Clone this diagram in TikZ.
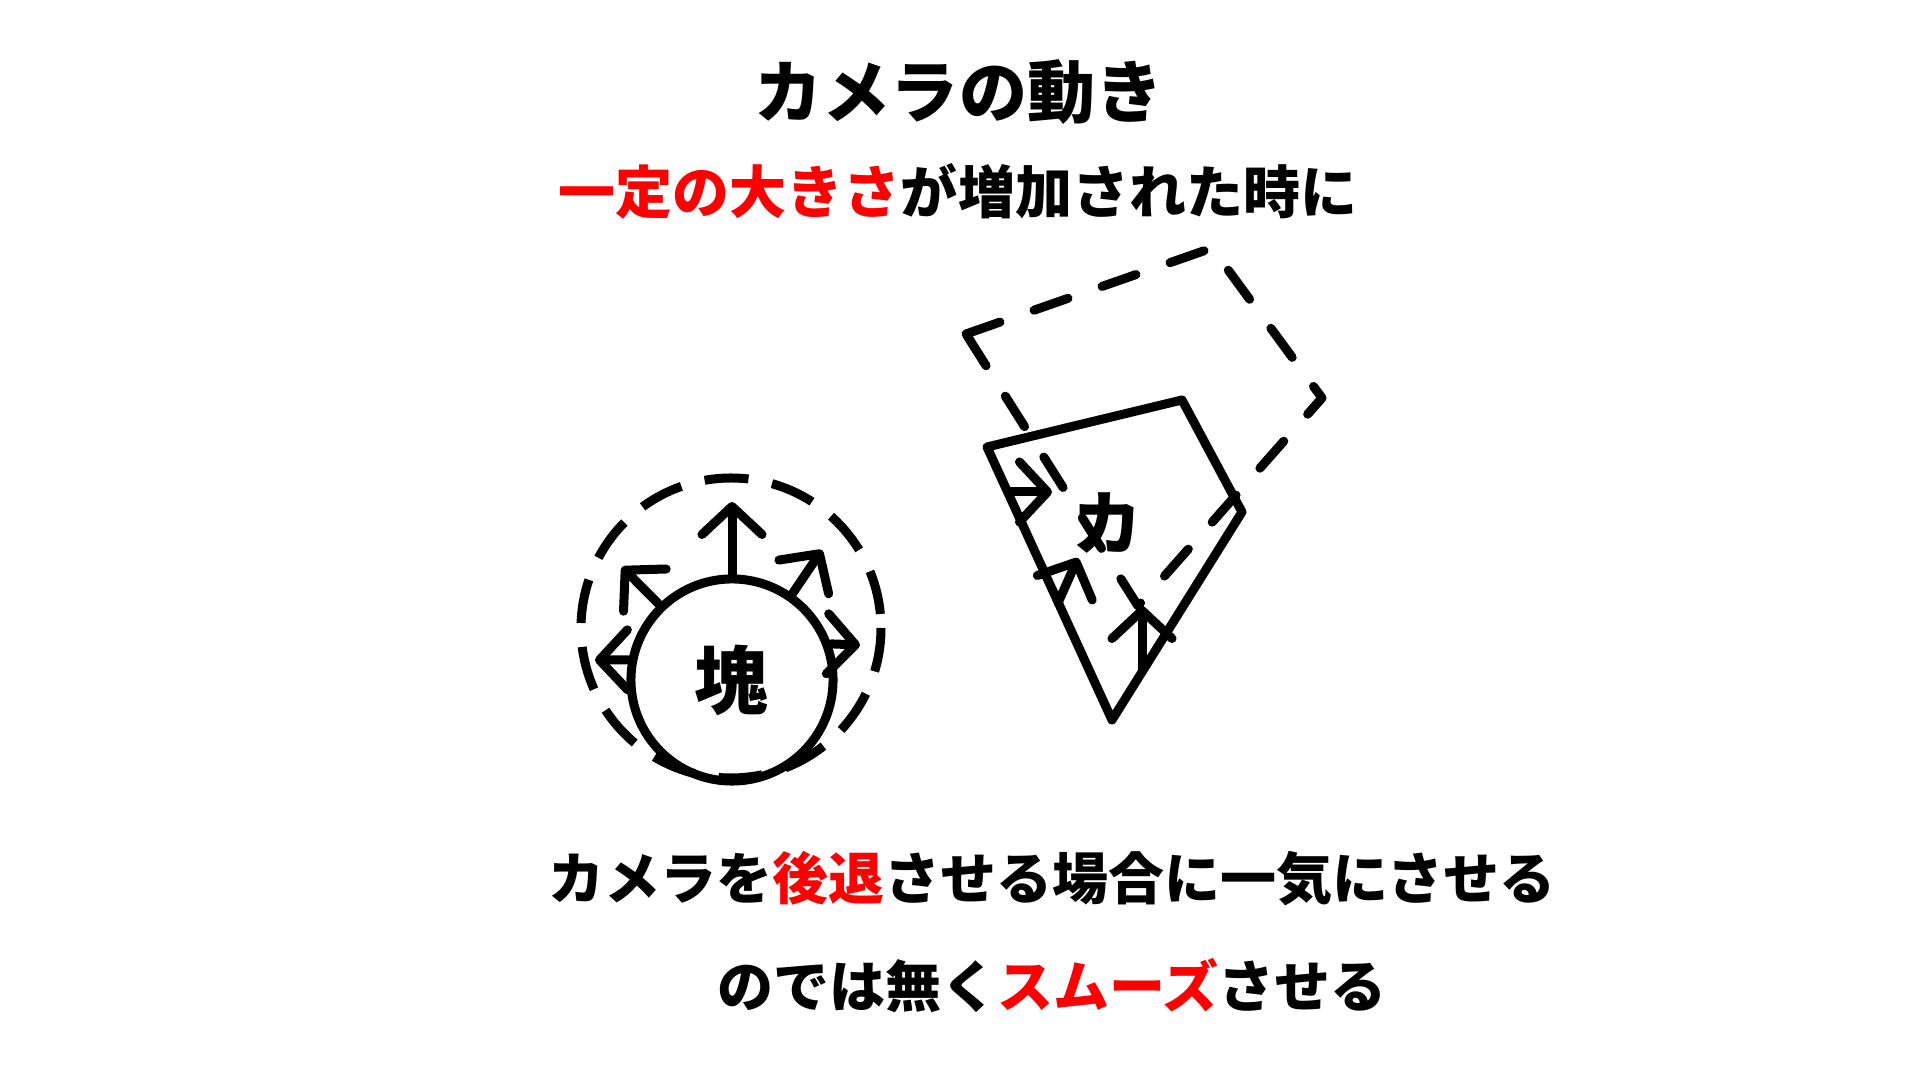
\documentclass[tikz,border=0pt]{standalone}
\usepackage{fontspec}
\newfontfamily\jpfont{Noto Sans CJK JP Black}
\usetikzlibrary{arrows.meta}
\definecolor{accent}{RGB}{255,0,0}

\begin{document}
\begin{tikzpicture}[x=0.01cm,y=-0.01cm,
    thick line/.style={line width=0.09cm, line cap=round, line join=round},
    dash line/.style={thick line, dash pattern=on 0.36cm off 0.36cm},
    ring line/.style={line width=0.09cm, dash pattern=on 0.44cm off 0.24cm},
    grow arrow/.style={thick line, -{Straight Barb[length=0.28cm,width=0.6cm,round]}},
    label/.style={inner sep=0pt, font=\jpfont\fontsize{#1}{#1}\selectfont}
  ]
  \useasboundingbox (0,0) rectangle (1920,1080);

  % headings
  \node[label=0.68cm] (title) at (959,92) {カメラの動き};
  \node[label=0.57cm] (subtitle) at (958,191) {\textcolor{accent}{一定の大きさ}が増加された時に};

  % the blob and how it grows
  \draw[ring line] (731,628) circle (150);
  \node[draw, circle, line width=0.09cm, minimum size=2.02cm, inner sep=0pt,
        font=\jpfont\fontsize{0.74cm}{0.74cm}\selectfont] (blob) at (732,680) {塊};
  \coordinate (tipN) at (732,502);
  \coordinate (tipNW) at (622,567);
  \coordinate (tipNE) at (822,550);
  \coordinate (tipE) at (860,645);
  \coordinate (tipW) at (595,660);
  \draw[grow arrow] (blob.90) -- (tipN);
  \draw[grow arrow] (blob.134) -- (tipNW);
  \draw[grow arrow] (blob.55) -- (tipNE);
  \draw[grow arrow] (blob.20) -- (tipE);
  \draw[grow arrow] (blob.169) -- (tipW);

  % camera view, now and after moving back
  \coordinate (camA) at (987,447);
  \coordinate (camB) at (1182,400);
  \coordinate (camC) at (1242,512);
  \coordinate (camD) at (1112,720);
  \coordinate (farA) at (966,334);
  \coordinate (farB) at (1212,248);
  \coordinate (farC) at (1322,398);
  \coordinate (farD) at (1138,606);
  \draw[thick line] (camA) -- (camB) -- (camC) -- (camD) -- cycle;
  \draw[dash line] (farA) -- (farB) -- (farC) -- (farD) -- cycle;
  \node[label=0.7cm] (cam) at (1108,523) {カ};

  \coordinate (pushA) at (1008,492);
  \coordinate (pushB) at (1058,603);
  \coordinate (pushC) at (1142,670);
  \coordinate (endA) at (1052,492);
  \coordinate (endB) at (1078,558);
  \coordinate (endC) at (1142,606);
  \draw[grow arrow] (pushA) -- (endA);
  \draw[grow arrow] (pushB) -- (endB);
  \draw[grow arrow] (pushC) -- (endC);

  % notes
  \node[label=0.56cm] (note1) at (1052,879) {カメラを\textcolor{accent}{後退}させる場合に一気にさせる};
  \node[label=0.56cm] (note2) at (1052,986) {のでは無く\textcolor{accent}{スムーズ}させる};
\end{tikzpicture}
\end{document}
